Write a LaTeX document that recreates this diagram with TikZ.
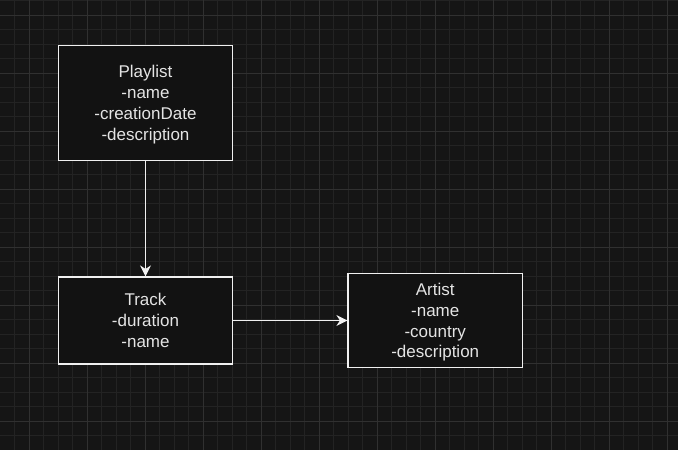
\documentclass[tikz,border=0pt]{standalone}
\usepackage{fontspec}
\setmainfont{Liberation Sans}
\usepackage{xcolor}
\usetikzlibrary{arrows.meta}
\definecolor{bgdark}{HTML}{151515}
\definecolor{boxfill}{HTML}{121212}
\definecolor{minorgrid}{HTML}{232323}
\definecolor{majorgrid}{HTML}{303030}
\definecolor{boxline}{HTML}{F0F0F0}
\definecolor{labeltext}{HTML}{E4E4E4}

\begin{document}
\begin{tikzpicture}[x=1pt, y=-1pt,
    entity/.style={draw=boxline, fill=boxfill, line width=1.2pt, text=labeltext,
        align=center, inner sep=0pt, text depth=0pt, font=\fontsize{17}{20.8}\selectfont},
    link/.style={draw=boxline, line width=1.2pt,
        -{Stealth[length=11pt, width=11pt, inset=3.5pt]}}]
        \fill[bgdark] (0,0) rectangle (678,450);
        \useasboundingbox (0,0) rectangle (678,450);

        \foreach \i in {1,...,46}
            \draw[minorgrid, line width=0.8pt] (14.5*\i, 0) -- (14.5*\i, 450);
        \foreach \j in {0,...,30}
            \draw[minorgrid, line width=0.8pt] (0, 0.5+14.5*\j) -- (678, 0.5+14.5*\j);
        \foreach \i in {0,...,11}
            \draw[majorgrid, line width=0.8pt] (29+58*\i, 0) -- (29+58*\i, 450);
        \foreach \j in {0,...,7}
            \draw[majorgrid, line width=0.8pt] (0, 15+58*\j) -- (678, 15+58*\j);

        \coordinate(c1) at (145.5, 103);
        \coordinate(c2) at (145.5, 320.5);
        \coordinate(c3) at (435.25, 320.5);

        \node[entity, minimum width=174pt, minimum height=115pt] (playlist) at (c1)
            {Playlist\\-name\\-creationDate\\-description};
        \node[entity, minimum width=174pt, minimum height=87pt] (track) at (c2)
            {Track\\-duration\\-name};
        \node[entity, minimum width=174.5pt, minimum height=94pt] (artist) at (c3)
            {Artist\\-name\\-country\\-description};

        \draw[link] (playlist) -- (track);
        \draw[link] (track) -- (artist);
    \end{tikzpicture}
\end{document}
